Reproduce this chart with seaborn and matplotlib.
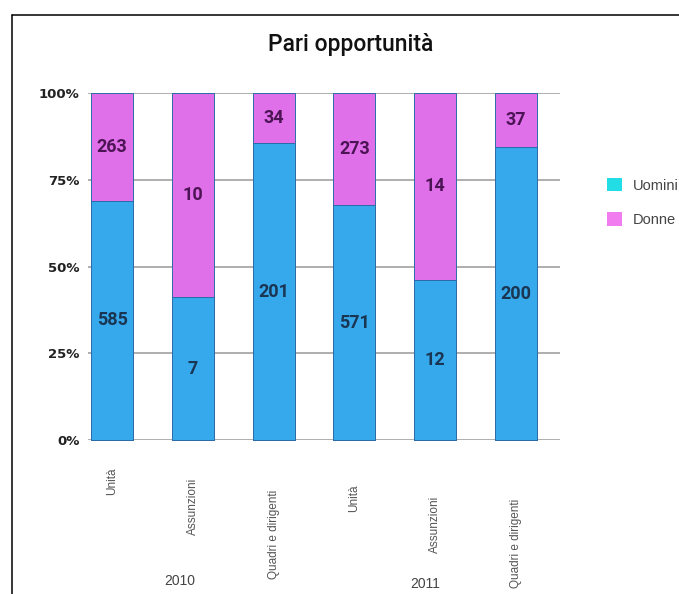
import matplotlib
matplotlib.use("Agg")
import matplotlib.pyplot as plt
import seaborn as sns
import pandas as pd
from matplotlib.lines import Line2D
from matplotlib.patches import Patch

# Data
categories = ["Unità", "Assunzioni", "Quadri e dirigenti",
              "Unità", "Assunzioni", "Quadri e dirigenti"]
years = ["2010", "2010", "2010", "2011", "2011", "2011"]
uomini = [585, 7, 201, 571, 12, 200]
donne = [263, 10, 34, 273, 14, 37]
yticks = [0, 0.25, 0.5, 0.75, 1.0]
ytick_labels = ["0%", "25%", "50%", "75%", "100%"]

keys = [f"{y} {c}" for y, c in zip(years, categories)]
df = pd.DataFrame({"key": keys, "uomini": uomini, "donne": donne})
df["total"] = df["uomini"] + df["donne"]
df["share_u"] = df["uomini"] / df["total"]
df["share_all"] = 1.0

blue = "#36a8ec"
pink = "#e070ea"

W, H = 679, 594
sns.set_style("white")
fig = plt.figure(figsize=(W / 100, H / 100), dpi=100)

# axes: 0% at y=440 px, 100% at y=93 px; x from 88 to 560 px
ax = fig.add_axes([88 / W, 1 - 440 / H, (560 - 88) / W, (440 - 93) / H])

sns.barplot(data=df, x="key", y="share_all", order=keys, color=pink,
            width=0.52, saturation=1, ax=ax, zorder=3)
sns.barplot(data=df, x="key", y="share_u", order=keys, color=blue,
            width=0.52, saturation=1, ax=ax, zorder=4)

for patch in ax.patches:
    patch.set_edgecolor("#2b6ca8")
    patch.set_linewidth(0.7)
    patch.set_clip_on(False)

ax.set_xlim(-0.30, 5.545)
ax.set_ylim(0, 1.0)
ax.set_yticks(yticks)
ax.set_yticklabels(ytick_labels, fontsize=9.5, fontweight="bold", color="#222222")
ax.yaxis.grid(True, color="#a8a8a8", linewidth=1.3, zorder=0)
ax.set_axisbelow(True)
for s in ax.spines.values():
    s.set_visible(False)
ax.tick_params(axis="y", length=0, pad=6)
ax.tick_params(axis="x", length=0)
ax.set_xticks(range(len(keys)))
ax.set_xticklabels(categories, rotation=90, fontsize=8.5, color="#555555",
                   va="top", fontfamily="Liberation Sans")
for tick, pad in zip(ax.xaxis.get_major_ticks(), [20, 27, 36, 32, 40, 42]):
    tick.set_pad(pad)
ax.set_xlabel("")
ax.set_ylabel("")

# Value labels inside segments
for i, row in df.iterrows():
    ax.text(i, row["share_u"] / 2, f"{row['uomini']}", ha="center", va="center",
            fontsize=13, fontweight="bold", fontfamily="Roboto",
            color="#1a3552", zorder=6)
    ax.text(i, row["share_u"] + (1 - row["share_u"]) / 2, f"{row['donne']}",
            ha="center", va="center", fontsize=13, fontweight="bold",
            fontfamily="Roboto", color="#4c1454", zorder=6)

# Year group labels
fig.text(180 / W, 1 - 581 / H, "2010", ha="center", va="center",
         fontsize=10, color="#444444", fontfamily="Liberation Sans")
fig.text(425 / W, 1 - 584 / H, "2011", ha="center", va="center",
         fontsize=10, color="#444444", fontfamily="Liberation Sans")

# Title
fig.text(351 / W, 1 - 45 / H, "Pari opportunità", ha="center", va="center",
         fontsize=16.5, fontfamily="Roboto", fontweight="medium", color="#111111")

# Legend
handles = [Patch(facecolor="#22dde6", edgecolor="none", label="Uomini"),
           Patch(facecolor="#f07cf0", edgecolor="none", label="Donne")]
fig.legend(handles=handles, loc="center left",
           bbox_to_anchor=(607 / W, 1 - 202.5 / H), frameon=False,
           handlelength=1.05, handleheight=1.05,
           labelspacing=1.35, handletextpad=0.7, borderpad=0,
           borderaxespad=0, labelcolor="#444444",
           prop={"family": "Liberation Sans", "size": 10.5})

# Outer frame: top and left edges
fig.add_artist(Line2D([11.5 / W, 1.0], [1 - 15 / H, 1 - 15 / H],
                      transform=fig.transFigure, color="black", linewidth=1.1))
fig.add_artist(Line2D([11.5 / W, 11.5 / W], [1 - 15 / H, 0.0],
                      transform=fig.transFigure, color="black", linewidth=1.1))

fig.savefig("out.png", dpi=100)
